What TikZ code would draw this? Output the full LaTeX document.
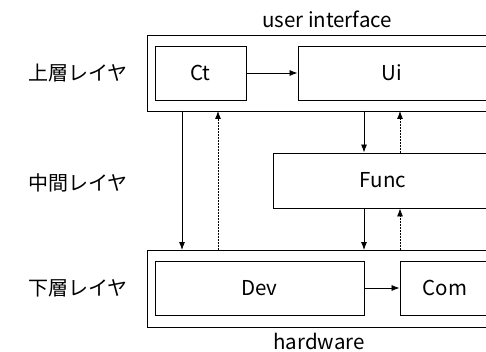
\documentclass[tikz,border=0pt]{standalone}
\usepackage{fontspec}
\setmainfont{Noto Sans CJK JP}
\usetikzlibrary{arrows.meta}
\begin{document}
\begin{tikzpicture}[x=1pt,y=-1pt,
  box/.style={draw, line width=0.9pt, minimum height=0pt, inner sep=0pt},
  lbl/.style={font=\fontsize{20.5}{22}\selectfont, inner sep=0pt},
  jlbl/.style={font=\fontsize{20}{22}\selectfont, inner sep=0pt},
  flow/.style={line width=0.8pt, -{Latex[length=8pt,width=6pt]}},
  back/.style={flow, dash pattern=on 2pt off 1pt}]
\useasboundingbox (0,0) rectangle (486,352);
\clip (0,0) rectangle (486,352);
% layer frames
\draw[line width=0.9pt] (147,35) rectangle (520,111);
\draw[line width=0.9pt] (147,250) rectangle (520,327);
% component boxes
\node[box, minimum width=91pt, minimum height=54pt] (ct) at (200.5,73) {};
\node[box, minimum width=200pt, minimum height=54pt] (ui) at (398,73) {};
\node[box, minimum width=220pt, minimum height=55pt] (func) at (383,180.5) {};
\node[box, minimum width=209pt, minimum height=54pt] (dev) at (259.5,288) {};
\node[box, minimum width=90pt, minimum height=54pt] (com) at (445,288) {};
\node[lbl] at (ct) {Ct};
\node[lbl] at ([xshift=-6pt]ui.center) {Ui};
\node[lbl] at (func) {Func};
\node[lbl] at (dev) {Dev};
\node[lbl] at (com) {Com};
\node[lbl] (uitxt) at (327,19) {user interface};
\node[lbl] (hwtxt) at (319,341) {hardware};
% layer names
\node[jlbl] (top) at (78,73) {上層レイヤ};
\node[jlbl] (mid) at (78,183) {中間レイヤ};
\node[jlbl] (bot) at (78,288) {下層レイヤ};
% frame anchors
\coordinate (tf1) at (182,111); \coordinate (bf1) at (182,250);
\coordinate (tf2) at (218,111); \coordinate (bf2) at (218,250);
\coordinate (tf3) at (364,111); \coordinate (bf3) at (364,250);
\coordinate (tf4) at (400,111); \coordinate (bf4) at (400,250);
% connectors
\draw[flow] (ct) -- (ui);
\draw[flow] (dev.east) -- (com.west);
\draw[flow] (tf1) -- (bf1);
\draw[back] (bf2) -- (tf2);
\draw[flow] (tf3) -- (func.north -| tf3);
\draw[back] (func.north -| tf4) -- (tf4);
\draw[flow] (func.south -| bf3) -- (bf3);
\draw[back] (bf4) -- (func.south -| bf4);
\end{tikzpicture}
\end{document}
